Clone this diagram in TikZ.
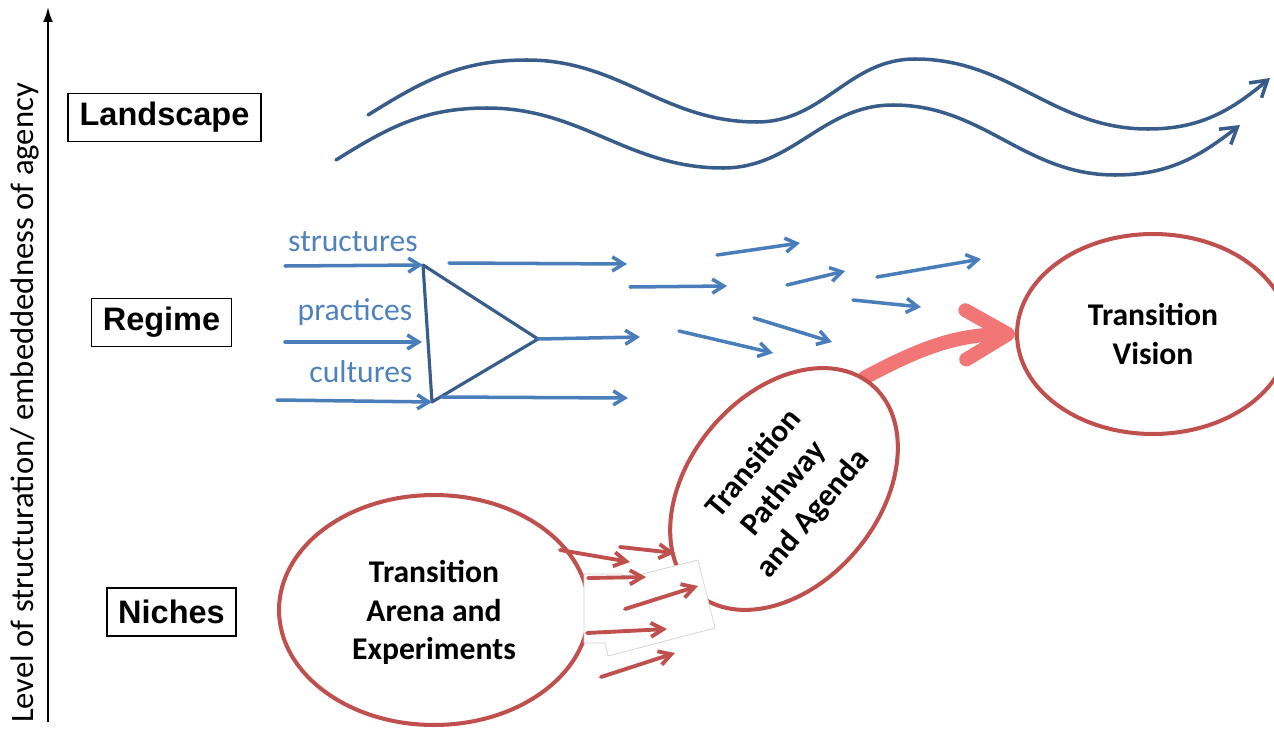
\documentclass[tikz,border=0pt]{standalone}
\usepackage{fontspec}
\setmainfont{Carlito}
\setsansfont{Liberation Sans}
\usetikzlibrary{arrows.meta,shapes.geometric,backgrounds}
\definecolor{wave}{HTML}{385D8A}
\definecolor{flow}{HTML}{4A7EBB}
\definecolor{flowtext}{HTML}{4F81BD}
\definecolor{niche}{HTML}{C0504D}
\definecolor{push}{HTML}{F27676}
\tikzset{
  level/.style={draw, line width=0.9pt, font=\sffamily\bfseries\fontsize{18.5}{22}\selectfont, minimum height=27.5pt, inner xsep=6.5pt},
  bubble/.style={ellipse, draw=niche, line width=2.3pt, fill=white, align=center, inner sep=0pt, font=\bfseries\fontsize{18}{22}\selectfont},
  flowarrow/.style={draw=flow, line width=2pt, line cap=round, -{Straight Barb[length=6.5pt,width=8pt]}},
  nichearrow/.style={draw=niche, line width=2.2pt, line cap=round, -{Straight Barb[length=7pt,width=8pt]}},
  waveline/.style={draw=wave, line width=2pt, line cap=round, -{Straight Barb[length=9pt,width=11pt]}},
  flowlabel/.style={text=flowtext, anchor=base, font=\fontsize{18}{22}\selectfont},
}
\begin{document}
\begin{tikzpicture}[x=0.02cm, y=0.02cm]
\useasboundingbox (0,0) rectangle (1274,-730);

\coordinate (foot) at (48,-722);
\coordinate (top) at (48,-6);
\draw[line width=1.7pt, -{Latex[length=9pt,width=5.5pt]}] (foot) -- (top);
\node[rotate=90, font=\fontsize{18.6}{22}\selectfont] (axislabel) at (25,-403) {Level of structuration/ embeddedness of agency};

\node[level] (landscape) at (164.5,-117.5) {Landscape};
\node[level] (regime) at (161.5,-322.5) {Regime};
\node[level] (niches) at (171.5,-612) {Niches};

\draw[waveline] (368,-115) to[out=32,in=180] (527,-60) to[out=0,in=180] (757,-122)
  to[out=0,in=180] (915,-59) to[out=0,in=180] (1148,-129) to[out=0,in=-140] (1270,-78);
\draw[waveline] (336,-160) to[out=32,in=180] (487,-108) to[out=0,in=180] (723,-168)
  to[out=0,in=180] (893,-105) to[out=0,in=180] (1115,-175) to[out=0,in=-142] (1240,-125);

\node[flowlabel] (structures) at (353,-251) {structures};
\node[flowlabel] (practices) at (355,-320) {practices};
\node[flowlabel] (cultures) at (361,-382) {cultures};

\coordinate (ta) at (423,-265);
\coordinate (tb) at (432,-402);
\coordinate (tc) at (538,-339);
\draw[draw=wave, line width=1.8pt, line join=round] (ta) -- (tc) -- (tb) -- cycle;
\coordinate (sin) at (285,-266);
\coordinate (pin) at (285,-342);
\coordinate (pend) at (422,-342);
\coordinate (cin) at (277,-400);
\coordinate (tout) at (640,-337);
\draw[flowarrow] (sin) -- (ta);
\draw[flowarrow] (pin) -- (pend);
\draw[flowarrow] (cin) -- (tb);
\draw[flowarrow] (tc) -- (tout);
\foreach \xa/\ya/\xb/\yb [count=\i] in {449/263/627/264, 442/397/628/398, 630/287/727/286,
  717/255/800/243, 787/285/845/271, 877/277/981/259, 853/300/921/307, 679/331/773/353, 754/318/832/342}{
  \coordinate (f\i a) at (\xa,-\ya);
  \coordinate (f\i b) at (\xb,-\yb);
  \draw[flowarrow] (f\i a) -- (f\i b);
}

\node[bubble, minimum width=6.2cm, minimum height=4.6cm, text depth=-6pt] (arena) at (434,-610) {Transition\\Arena and\\Experiments};
\node[bubble, minimum width=5.45cm, minimum height=3.8cm, rotate=50] (pathway) at (784,-489) {Transition\\Pathway\\and Agenda};
\node[bubble, minimum width=5.44cm, minimum height=4cm] (vision) at (1153,-334) {Transition\\Vision};

\begin{scope}[on background layer]
\draw[draw=push, line width=8pt, line cap=round, -{Straight Barb[round,length=24pt,width=28pt]}] (pathway.4) to[out=28,in=181] (vision.west);
\end{scope}

\draw[draw=black!18, line width=0.4pt, fill=white] (584,-574) -- (623,-574) -- (623,-579) -- (698,-560)
  -- (715,-628) -- (608,-656) -- (605,-643) -- (584,-643) -- cycle;

\foreach \xa/\ya/\xb/\yb [count=\i] in {560/550/630/562, 620/547/675/553, 588/578/646/577,
  625/609/698/586, 587/633/667/629, 601/677/675/653}{
  \coordinate (n\i a) at (\xa,-\ya);
  \coordinate (n\i b) at (\xb,-\yb);
  \draw[nichearrow] (n\i a) -- (n\i b);
}
\end{tikzpicture}
\end{document}
